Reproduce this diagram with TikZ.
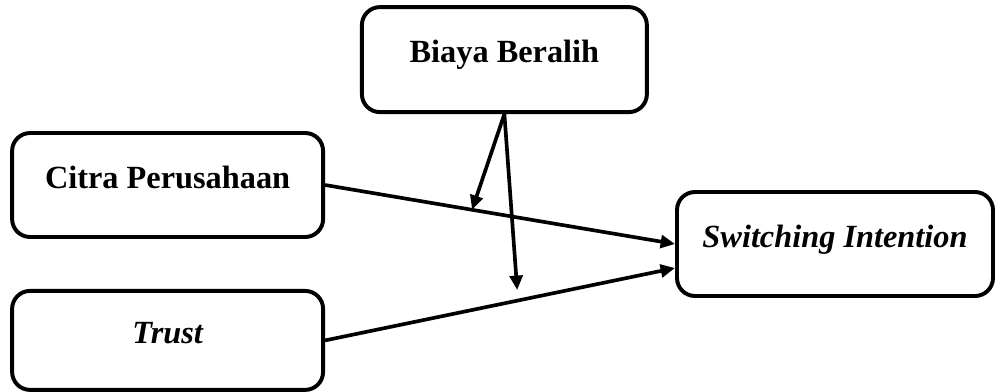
\documentclass[tikz,border=0pt]{standalone}
\usepackage{fontspec}
\setmainfont{Liberation Serif}
\usepackage{tikz}
\usetikzlibrary{arrows.meta}
\usetikzlibrary{shapes}
\usetikzlibrary{positioning}
\usetikzlibrary{calc}
\tikzstyle{varbox} = [draw, line width=2.8pt, rounded corners=0.45cm, minimum height=2.6cm, text height=0.5cm, text depth=0.35cm, font=\fontsize{23}{27}\selectfont\bfseries]
\tikzstyle{arrow} = [line width=2.6pt, -{Triangle[length=0.36cm, width=0.32cm]}]
\begin{document}
\begin{tikzpicture}
\useasboundingbox (0,0) rectangle (24.875,-9.775);
            \node[varbox, minimum width=7.125cm, minimum height=2.625cm] (biaya) at (12.61,-1.49) {Biaya Beralih};
            \node[varbox, minimum width=7.775cm] (citra) at (4.19,-4.625) {Citra Perusahaan};
            \node[varbox, minimum width=7.775cm, minimum height=2.475cm] (trust) at (4.19,-8.51) {\itshape Trust};
            \node[varbox, minimum width=7.9cm] (switch) at (20.875,-6.1) {\itshape Switching Intention};
            \draw[arrow] (citra.east) -- coordinate[pos=0.42] (modcitra) (switch.west);
            \draw[arrow] (trust.east) -- ([yshift=-0.6cm]switch.west);
            \coordinate (modtrust) at (12.93,-7.25);
            \draw[arrow] (biaya.south) -- (modcitra);
            \draw[arrow] (biaya.south) -- (modtrust);
        \end{tikzpicture}
\end{document}
